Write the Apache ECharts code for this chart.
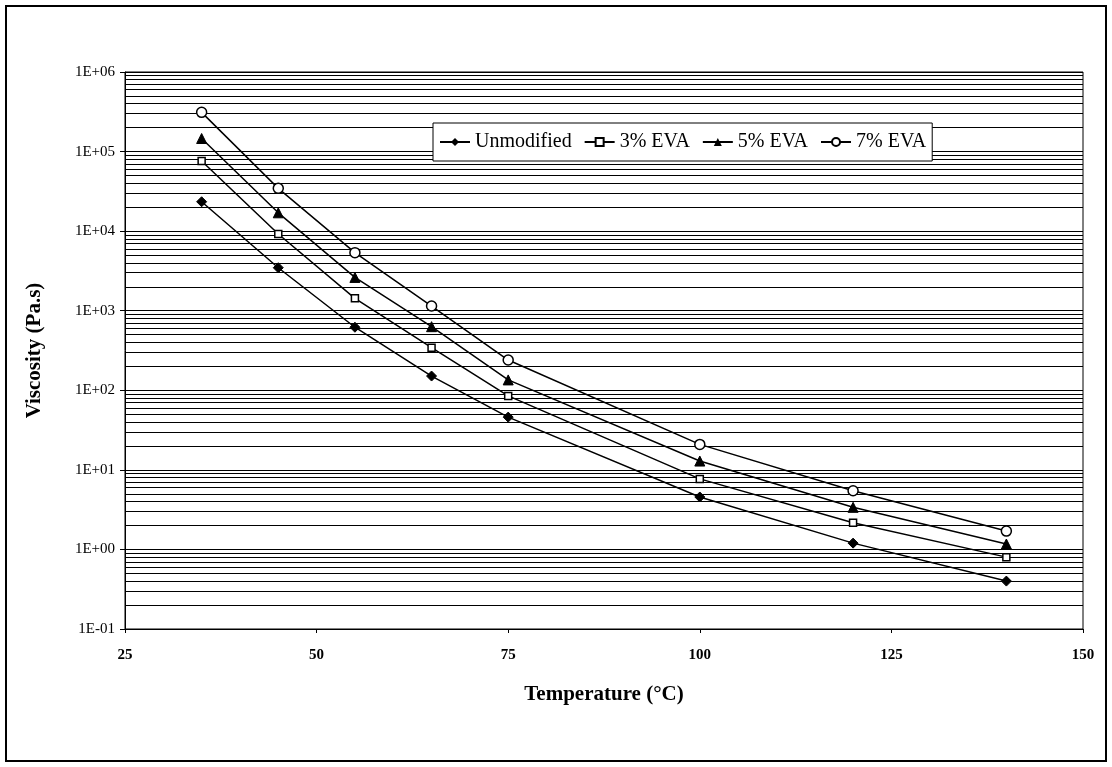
<!DOCTYPE html>
<html>
<head>
<meta charset="utf-8">
<script src="https://cdn.jsdelivr.net/npm/echarts@6/dist/echarts.min.js"></script>
<style>
html,body{margin:0;padding:0;background:#fff;}
#chart{width:1112px;height:767px;}
</style>
</head>
<body>
<div id="chart"></div>
<script>
// ---- data ----
var temperatures = [35, 45, 55, 65, 75, 100, 120, 140];
var seriesNames = ['Unmodified', '3% EVA', '5% EVA', '7% EVA'];
var unmodified = [23400, 3470, 620, 151, 46, 4.56, 1.2, 0.40];
var eva3 = [76000, 9200, 1430, 343, 85, 7.7, 2.17, 0.80];
var eva5 = [146000, 17000, 2620, 630, 135, 12.9, 3.38, 1.17];
var eva7 = [311000, 34500, 5370, 1145, 240, 20.9, 5.47, 1.70];
var xTicks = [25, 50, 75, 100, 125, 150];
var yTickLabels = ['1E-01', '1E+00', '1E+01', '1E+02', '1E+03', '1E+04', '1E+05', '1E+06'];
var yMinExp = -1;

// minor gridline values (2..9 x 10^k)
var minorGrid = [];
for (var k = -1; k <= 5; k++) {
  for (var m = 2; m <= 9; m++) minorGrid.push(+(m * Math.pow(10, k)).toPrecision(3));
}

function pairs(arr) {
  return temperatures.map(function (t, i) { return [t, arr[i]]; });
}

var font = 'Liberation Serif';
var chart = echarts.init(document.getElementById('chart'), null, {renderer: 'canvas'});

var lineBase = {
  type: 'line',
  z: 5,
  lineStyle: {color: '#000', width: 1.5},
  itemStyle: {color: '#000', borderColor: '#000'},
  animation: false
};

chart.setOption({
  backgroundColor: '#fff',
  animation: false,
  graphic: [{
    type: 'rect',
    shape: {x: 6, y: 6, width: 1100, height: 755},
    style: {fill: 'none', stroke: '#000', lineWidth: 2},
    silent: true
  }],
  grid: {
    left: 125, right: 29, top: 72, bottom: 138,
    show: true, borderColor: '#000', borderWidth: 1, backgroundColor: 'transparent'
  },
  legend: {
    left: 433, top: 123,
    data: seriesNames,
    backgroundColor: '#fff',
    borderColor: '#000', borderWidth: 1,
    padding: [9, 6],
    itemGap: 12,
    itemWidth: 30, itemHeight: 10,
    textStyle: {fontFamily: font, fontSize: 20, color: '#000'},
    z: 10
  },
  xAxis: {
    type: 'value', min: xTicks[0], max: xTicks[xTicks.length - 1], interval: 25,
    name: 'Temperature (\u00B0C)',
    nameLocation: 'middle', nameGap: 55,
    nameTextStyle: {fontFamily: font, fontWeight: 'bold', fontSize: 21, color: '#000'},
    axisLine: {show: true, lineStyle: {color: '#000', width: 1}},
    axisTick: {show: true, length: 4, lineStyle: {color: '#000'}},
    axisLabel: {fontFamily: font, fontWeight: 'bold', fontSize: 15, color: '#000', margin: 19},
    splitLine: {show: false}
  },
  yAxis: {
    type: 'log', logBase: 10, min: 0.1, max: 1e6,
    name: 'Viscosity (Pa.s)',
    nameLocation: 'middle', nameGap: 80,
    nameTextStyle: {fontFamily: font, fontWeight: 'bold', fontSize: 21, color: '#000'},
    axisLine: {show: true, lineStyle: {color: '#000', width: 1}},
    axisTick: {show: true, length: 5, lineStyle: {color: '#000'}},
    axisLabel: {
      fontFamily: font, fontSize: 15, color: '#000', margin: 10,
      formatter: function (v) {
        var e = Math.round(Math.log10(v));
        return yTickLabels[e - yMinExp] || '';
      }
    },
    splitLine: {show: true, lineStyle: {color: '#000', width: 1}},
    minorTick: {show: false},
    minorSplitLine: {show: false}
  },
  series: [
    {
      type: 'line', name: '_grid', data: [], z: 1, silent: true, animation: false,
      markLine: {
        silent: true, symbol: ['none', 'none'], animation: false,
        label: {show: false},
        lineStyle: {color: '#000', width: 1, type: 'solid'},
        emphasis: {disabled: true},
        data: minorGrid.map(function (v) { return {yAxis: v}; })
      }
    },
    Object.assign({}, lineBase, {
      name: seriesNames[0], data: pairs(unmodified),
      symbol: 'diamond', symbolSize: 10,
      itemStyle: {color: '#000', borderColor: '#000'}
    }),
    Object.assign({}, lineBase, {
      name: seriesNames[1], data: pairs(eva3),
      symbol: 'rect', symbolSize: 7,
      itemStyle: {color: '#fff', borderColor: '#000', borderWidth: 1.5}
    }),
    Object.assign({}, lineBase, {
      name: seriesNames[2], data: pairs(eva5),
      symbol: 'triangle', symbolSize: 10,
      itemStyle: {color: '#000', borderColor: '#000'}
    }),
    Object.assign({}, lineBase, {
      name: seriesNames[3], data: pairs(eva7),
      symbol: 'circle', symbolSize: 10,
      itemStyle: {color: '#fff', borderColor: '#000', borderWidth: 1.5}
    })
  ]
});
</script>
</body>
</html>
